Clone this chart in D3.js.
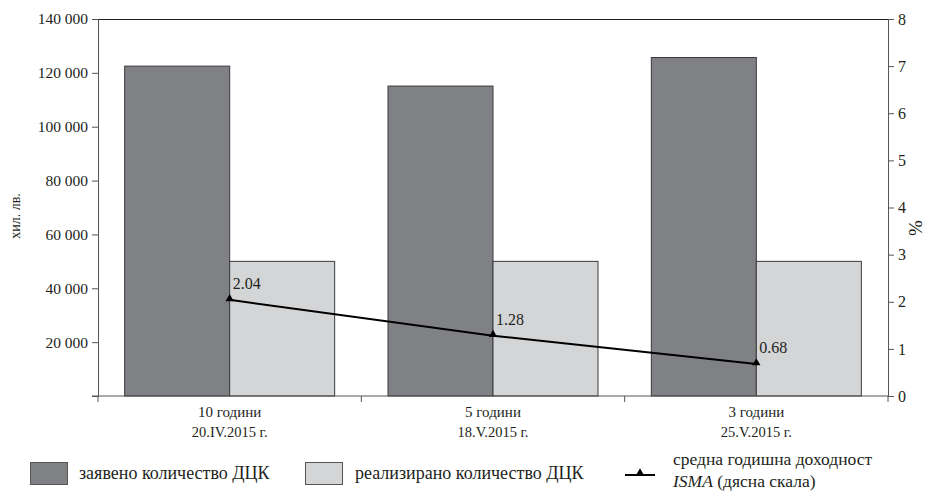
<!DOCTYPE html>
<html><head><meta charset="utf-8">
<script src="https://cdn.jsdelivr.net/npm/d3@7"></script>
<style>body{margin:0;background:#fff}svg{display:block}</style>
</head><body>
<script>
const categories = ["10 години|20.IV.2015 г.", "5 години|18.V.2015 г.", "3 години|25.V.2015 г."];
const declared = [122500, 115100, 125700];
const sold = [50000, 50000, 50000];
const yieldPct = [2.04, 1.28, 0.68];
const leftTicks = [0, 20000, 40000, 60000, 80000, 100000, 120000, 140000];
const rightTicks = [0, 1, 2, 3, 4, 5, 6, 7, 8];
const seriesNames = ["заявено количество ДЦК", "реализирано количество ДЦК", "средна годишна доходност", "ISMA", " (дясна скала)"];

const FF = "'Liberation Serif', 'DejaVu Serif', serif";
const W = 929, H = 492;
const m = {l: 98, r: 41, t: 19, b: 96};
const svg = d3.select("body").append("svg").attr("width", W).attr("height", H)
  .style("font-family", FF);
const x = d3.scaleBand().domain(categories).range([m.l, W - m.r]).paddingInner(0).paddingOuter(0);
const yL = d3.scaleLinear().domain([0, 140000]).range([H - m.b, m.t]);
const yR = d3.scaleLinear().domain([0, 8]).range([H - m.b, m.t]);
const bw = 105;
const colD = "#808184", colL = "#d4d5d7";
const fmt = d => d3.format(",")(d).replace(/,/g, " ");
const txt = sel => sel.attr("font-family", FF).style("font-family", FF).attr("fill", "#231f20");

// top border
svg.append("line").attr("x1", m.l).attr("x2", W - m.r).attr("y1", m.t + 0.5).attr("y2", m.t + 0.5).attr("stroke", "#231f20");

// bars
const g = svg.append("g");
categories.forEach((c, i) => {
  const cx = x(c) + x.bandwidth() / 2;
  g.append("rect").attr("x", cx - bw).attr("width", bw).attr("y", yL(declared[i])).attr("height", yL(0) - yL(declared[i]))
    .attr("fill", colD).attr("stroke", "#3a3a3c").attr("stroke-width", 1);
  g.append("rect").attr("x", cx).attr("width", bw).attr("y", yL(sold[i])).attr("height", yL(0) - yL(sold[i]))
    .attr("fill", colL).attr("stroke", "#3a3a3c").attr("stroke-width", 1);
});

// left axis
const axL = svg.append("g").attr("transform", `translate(${m.l},0)`)
  .call(d3.axisLeft(yL).tickValues(leftTicks).tickFormat(d => d === 0 ? "" : fmt(d)).tickSize(6).tickPadding(4));
axL.attr("font-family", FF);
txt(axL.selectAll("text")).style("font-size", "15.5px");
axL.selectAll("path,line").attr("stroke", "#555");

// right axis
const axR = svg.append("g").attr("transform", `translate(${W - m.r},0)`)
  .call(d3.axisRight(yR).tickValues(rightTicks).tickFormat(d3.format("d")).tickSize(6).tickPadding(4));
axR.attr("font-family", FF);
txt(axR.selectAll("text")).style("font-size", "16px");
axR.selectAll("path,line").attr("stroke", "#555");

// bottom axis
const axB = svg.append("g").attr("transform", `translate(0,${H - m.b})`);
axB.append("line").attr("x1", m.l - 6).attr("x2", W - m.r).attr("stroke", "#555");
const bounds = [m.l].concat(categories.map(c => x(c) + x.bandwidth()));
axB.selectAll("line.t").data(bounds).enter().append("line").attr("class", "t")
  .attr("x1", d => d).attr("x2", d => d).attr("y1", 0).attr("y2", 6).attr("stroke", "#555");
categories.forEach(c => {
  const cx = x(c) + x.bandwidth() / 2;
  const parts = c.split("|");
  txt(axB.append("text")).attr("x", cx).attr("y", 21).attr("text-anchor", "middle").style("font-size", "15px").text(parts[0]);
  txt(axB.append("text")).attr("x", cx).attr("y", 41).attr("text-anchor", "middle").style("font-size", "14.5px").text(parts[1]);
});

// line
const pts = categories.map((c, i) => [x(c) + x.bandwidth() / 2, yR(yieldPct[i])]);
svg.append("path").attr("d", d3.line()(pts)).attr("fill", "none").attr("stroke", "#000").attr("stroke-width", 2);
const tri = d3.symbol().type(d3.symbolTriangle).size(30);
svg.selectAll("path.m").data(pts).enter().append("path").attr("class", "m")
  .attr("transform", d => `translate(${d[0]},${d[1] - 1})`).attr("d", tri).attr("fill", "#000");
txt(svg.selectAll("text.v").data(pts).enter().append("text").attr("class", "v"))
  .attr("x", d => d[0] + 3).attr("y", d => d[1] - 11).style("font-size", "16px")
  .text((d, i) => yieldPct[i].toFixed(2));

// axis titles
txt(svg.append("text")).attr("transform", "translate(20,216) rotate(-90)").attr("text-anchor", "middle").style("font-size", "14px").text("хил. лв.");
txt(svg.append("text")).attr("transform", "translate(922,228) rotate(-90)").attr("text-anchor", "middle").style("font-size", "19px").text("%");

// legend
const lg = svg.append("g");
lg.append("rect").attr("x", 30.5).attr("y", 462.5).attr("width", 37).attr("height", 22).attr("fill", colD).attr("stroke", "#555");
txt(lg.append("text")).attr("x", 79).attr("y", 479).style("font-size", "18px").text(seriesNames[0]);
lg.append("rect").attr("x", 305.5).attr("y", 462.5).attr("width", 37).attr("height", 22).attr("fill", colL).attr("stroke", "#555");
txt(lg.append("text")).attr("x", 355).attr("y", 479).style("font-size", "18px").text(seriesNames[1]);
lg.append("line").attr("x1", 625).attr("x2", 655).attr("y1", 475).attr("y2", 475).attr("stroke", "#000").attr("stroke-width", 2);
lg.append("path").attr("transform", "translate(640,473)").attr("d", tri).attr("fill", "#000");
txt(lg.append("text")).attr("x", 673).attr("y", 465).style("font-size", "17.5px").text(seriesNames[2]);
const t2 = txt(lg.append("text")).attr("x", 673).attr("y", 487).style("font-size", "17.5px");
t2.append("tspan").style("font-style", "italic").text(seriesNames[3]);
t2.append("tspan").text(seriesNames[4]);
</script>
</body></html>
